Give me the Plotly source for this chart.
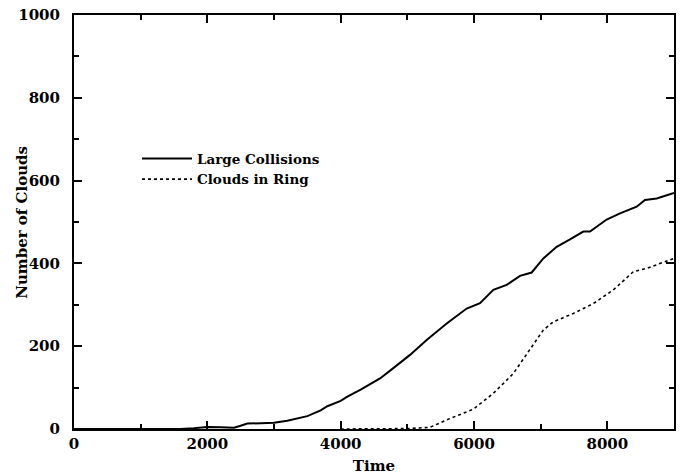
import plotly.graph_objects as go

# Large Collisions (solid)
lc_t = [0, 1590, 1800, 2000, 2200, 2400, 2500, 2600, 2800, 3000, 3200, 3500, 3700, 3800, 4000, 4100,
        4300, 4590, 4790, 5040, 5290, 5590, 5890, 6090, 6290, 6490, 6690, 6865, 7040, 7240,
        7440, 7640, 7740, 7990, 8190, 8440, 8565, 8740, 9000]
lc_v = [0, 0, 2, 5, 4, 3, 8, 13, 14, 15, 20, 31, 45, 55, 68, 78,
        95, 122, 147, 179, 215, 255, 291, 304, 336, 348, 370, 378, 412, 440,
        458, 477, 477, 506, 521, 537, 553, 557, 570]

# Clouds in Ring (dotted)
cr_t = [4000, 4500, 5000, 5340, 5590, 5990, 6290, 6590, 6840, 7040, 7190, 7490, 7790, 8090,
        8390, 8590, 9000]
cr_v = [0, 0, 1, 4, 22, 48, 86, 134, 191, 239, 259, 279, 303, 336,
        380, 388, 412]

x_ticks = [0, 2000, 4000, 6000, 8000]
y_ticks = [0, 200, 400, 600, 800, 1000]

serif = "DejaVu Serif"

fig = go.Figure()
fig.add_trace(go.Scatter(x=lc_t, y=lc_v, mode="lines", name="<b>Large Collisions</b>",
                         line=dict(color="black", width=2)))
fig.add_trace(go.Scatter(x=cr_t, y=cr_v, mode="lines", name="<b>Clouds in Ring</b>",
                         line=dict(color="black", width=1.6, dash="dot")))

axis_common = dict(
    showline=True, linecolor="black", linewidth=2, mirror="ticks",
    ticks="inside", ticklen=8, tickwidth=2, tickcolor="black",
    showgrid=False, zeroline=False, automargin=False,
    tickfont=dict(family=serif, size=15, color="black"),
)

fig.update_xaxes(range=[0, 9000], tickvals=x_ticks,
                 ticktext=[f"<b>{v}</b>" for v in x_ticks],
                 minor=dict(ticks="inside", ticklen=5, tickwidth=1.5, tickcolor="black", dtick=1000),
                 title=dict(text="<b>Time</b>", font=dict(family=serif, size=15, color="black"), standoff=8),
                 **axis_common)
fig.update_yaxes(range=[0, 1000], tickvals=y_ticks,
                 ticktext=[f"<b>{v}</b>" for v in y_ticks],
                 ticklabelstandoff=9,
                 minor=dict(ticks="inside", ticklen=5, tickwidth=1.5, tickcolor="black", dtick=100),
                 **axis_common)

fig.add_annotation(text="<b>Number of Clouds</b>", xref="paper", yref="paper",
                   x=-0.087, y=0.5, xanchor="center", yanchor="middle", textangle=-90,
                   showarrow=False, font=dict(family=serif, size=15, color="black"))

fig.update_layout(
    width=684, height=476,
    margin=dict(l=74, r=10, t=15, b=47),
    plot_bgcolor="white", paper_bgcolor="white",
    showlegend=True,
    legend=dict(x=0.105, y=0.69, xanchor="left", yanchor="top",
                bgcolor="rgba(0,0,0,0)", font=dict(family=serif, size=13.5, color="black"),
                tracegroupgap=0, itemwidth=50),
)

fig.write_html("out.html")
